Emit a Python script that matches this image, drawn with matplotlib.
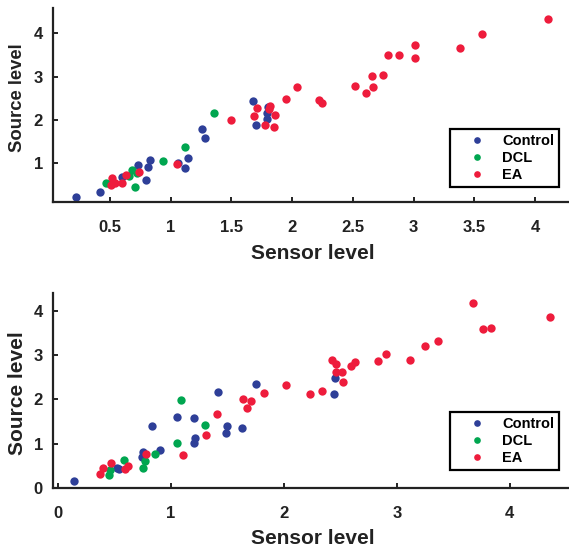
import matplotlib
matplotlib.use("Agg")
import matplotlib.pyplot as plt

plt.rcParams["font.family"] = ["Liberation Sans", "DejaVu Sans"]
plt.rcParams["font.weight"] = "bold"

# top panel
ctrl_top_x = [0.22, 0.42, 0.60, 0.73, 0.81, 0.83, 0.80, 1.06, 1.12, 1.14, 1.26, 1.28, 1.68, 1.70, 1.79, 1.79, 1.80]
ctrl_top_y = [0.22, 0.33, 0.68, 0.96, 0.92, 1.07, 0.61, 1.01, 0.88, 1.12, 1.78, 1.58, 2.44, 1.88, 2.15, 2.03, 2.30]
dcl_top_x = [0.47, 0.68, 0.66, 0.72, 0.71, 0.94, 1.12, 1.36, 0.50]
dcl_top_y = [0.55, 0.85, 0.71, 0.77, 0.45, 1.06, 1.37, 2.15, 0.52]
ea_top_x = [0.52, 0.51, 0.54, 0.60, 0.63, 0.74, 1.05, 1.50, 1.71, 1.69, 1.82, 1.81, 1.86, 1.78, 1.85,
            1.95, 2.04, 2.22, 2.25, 2.52, 2.61, 2.67, 2.66, 2.75, 2.79, 2.88, 3.01, 3.01, 3.38, 3.56, 4.11]
ea_top_y = [0.65, 0.49, 0.54, 0.55, 0.74, 0.80, 0.98, 1.99, 2.28, 2.10, 2.33, 2.25, 2.11, 1.88, 1.84,
            2.48, 2.75, 2.46, 2.39, 2.79, 2.62, 2.75, 3.02, 3.03, 3.49, 3.49, 3.73, 3.42, 3.66, 3.98, 4.33]

# bottom panel
ctrl_bot_x = [0.14, 0.52, 0.54, 0.75, 0.74, 0.90, 0.83, 1.05, 1.20, 1.42, 1.21, 1.20, 1.50, 1.49, 1.63, 1.75, 2.44, 2.45]
ctrl_bot_y = [0.16, 0.45, 0.43, 0.81, 0.71, 0.86, 1.41, 1.60, 1.58, 2.17, 1.14, 1.01, 1.40, 1.25, 1.35, 2.36, 2.12, 2.49]
dcl_bot_x = [0.45, 0.46, 0.58, 0.77, 0.75, 0.86, 1.05, 1.09, 1.30]
dcl_bot_y = [0.30, 0.41, 0.64, 0.61, 0.45, 0.77, 1.02, 1.98, 1.43]
ea_bot_x = [0.37, 0.40, 0.47, 0.59, 0.62, 0.78, 1.11, 1.31, 1.41, 1.64, 1.67, 1.71, 1.82, 2.02, 2.23, 2.34,
            2.43, 2.46, 2.46, 2.51, 2.52, 2.59, 2.63, 2.83, 2.90, 3.12, 3.25, 3.36, 3.67, 3.76, 3.83, 4.36]
ea_bot_y = [0.32, 0.46, 0.56, 0.43, 0.51, 0.77, 0.74, 1.19, 1.67, 2.00, 1.81, 1.97, 2.15, 2.32, 2.12, 2.19,
            2.88, 2.79, 2.61, 2.61, 2.39, 2.76, 2.85, 2.87, 3.02, 2.90, 3.20, 3.31, 4.17, 3.59, 3.60, 3.86]

top_xticks = [0.5, 1, 1.5, 2, 2.5, 3, 3.5, 4]
top_xlabels = ["0.5", "1", "1.5", "2", "2.5", "3", "3.5", "4"]
top_yticks = [1, 2, 3, 4]
bot_xticks = [0, 1, 2, 3, 4]
bot_yticks = [0, 1, 2, 3, 4]

names = ["Control", "DCL", "EA"]
colors = ["#2e3f98", "#00a650", "#ee1c3c"]

fig = plt.figure(figsize=(5.69, 5.48), dpi=100)
ax1 = fig.add_axes([0.0926, 0.6314, 0.9126, 0.354])
ax2 = fig.add_axes([0.0926, 0.1089, 0.9126, 0.3558])

top_data = [(ctrl_top_x, ctrl_top_y), (dcl_top_x, dcl_top_y), (ea_top_x, ea_top_y)]
bot_data = [(ctrl_bot_x, ctrl_bot_y), (dcl_bot_x, dcl_bot_y), (ea_bot_x, ea_bot_y)]

for ax, data in [(ax1, top_data), (ax2, bot_data)]:
    for (xs, ys), name, c in zip(data, names, colors):
        ax.plot(xs, ys, "o", ms=6, color=c, mec=c, mew=0, label=name)
    for s in ["top", "right"]:
        ax.spines[s].set_visible(False)
    for s in ["left", "bottom"]:
        ax.spines[s].set_linewidth(1.6)
        ax.spines[s].set_color("#222222")
    ax.tick_params(direction="in", length=3.5, width=1.4, labelsize=12, colors="#222222")
    ax.tick_params(axis="x", pad=13)
    ax.tick_params(axis="y", pad=7)
    leg = ax.legend(loc="upper right", bbox_to_anchor=(559 / 569, 1 - (129 if ax is ax1 else 412) / 548),
                    bbox_transform=fig.transFigure, borderaxespad=0, fontsize=10.5,
                    handlelength=3.0, handletextpad=0.2, labelspacing=0.2, borderpad=0.35,
                    markerscale=0.8, fancybox=False, framealpha=1)
    leg.get_frame().set_edgecolor("black")
    leg.get_frame().set_linewidth(1.6)

ax1.set_xlim(0.028, 4.305)
ax1.set_ylim(0.106, 4.58)
ax1.set_xticks(top_xticks)
ax1.set_xticklabels(top_xlabels)
ax1.set_yticks(top_yticks)

ax2.set_xlim(-0.047, 4.55)
ax2.set_ylim(0, 4.39)
ax2.set_xticks(bot_xticks)
ax2.set_yticks(bot_yticks)

fig.text(312.5 / 569, 1 - 253 / 548, "Sensor level", ha="center", va="center", fontsize=15, color="#222222")
fig.text(312.5 / 569, 1 - 538.5 / 548, "Sensor level", ha="center", va="center", fontsize=15, color="#222222")
fig.text(17.5 / 569, 1 - 97.5 / 548, "Source level", rotation=90, ha="center", va="center", fontsize=13.3, color="#222222")
fig.text(17.5 / 569, 1 - 393 / 548, "Source level", rotation=90, ha="center", va="center", fontsize=15, color="#222222")

fig.savefig("out.png", dpi=100)
